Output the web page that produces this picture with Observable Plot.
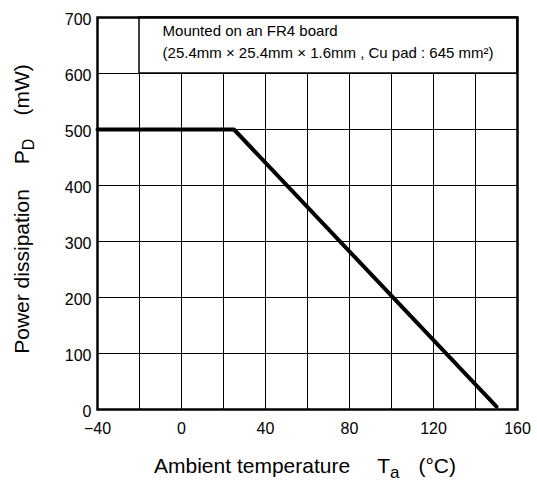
<!DOCTYPE html>
<html><head><meta charset="utf-8">
<script src="https://cdn.jsdelivr.net/npm/d3@7"></script>
<script src="https://cdn.jsdelivr.net/npm/@observablehq/plot@0.6"></script>
<style>body{margin:0;background:#fff} svg{font-family:"Liberation Sans",Arial,sans-serif}</style>
</head><body><div id="chart"></div>
<script>
const temps = [-40, 25, 150];
const power = [500, 500, 5];
const xTicks = [-40, 0, 40, 80, 120, 160];
const yTicks = [0, 100, 200, 300, 400, 500, 600, 700];
const xGrid = [-20, 0, 20, 40, 60, 80, 100, 120, 140];
const yGrid = [100, 200, 300, 400, 500, 600];
const noteLines = ["Mounted on an FR4 board", "(25.4mm \u00d7 25.4mm \u00d7 1.6mm , Cu pad : 645 mm\u00b2)"];
const noteY = [675, 636];
const noteBox = [{x1: -20, x2: 160, y1: 600, y2: 700}];

const data = temps.map((t, i) => ({t, p: power[i]}));
const notes = noteLines.map((s, i) => ({s, y: noteY[i]}));

const W = 537, H = 482;
const plot = Plot.plot({
  width: W, height: H,
  marginLeft: 97, marginRight: 20, marginTop: 17, marginBottom: 73,
  style: {fontFamily: '"Liberation Sans", Arial, sans-serif', color: "#000", background: "#fff"},
  x: {domain: [-40, 160]},
  y: {domain: [0, 700]},
  marks: [
    Plot.ruleX(xGrid, {stroke: "#000", strokeWidth: 1}),
    Plot.ruleY(yGrid, {stroke: "#000", strokeWidth: 1}),
    Plot.rect(noteBox, {x1: "x1", x2: "x2", y1: "y1", y2: "y2", fill: "#fff", stroke: "#000", strokeWidth: 1.5}),
    Plot.text(notes, {x: -9, y: "y", text: "s", textAnchor: "start", fontSize: 15, fill: "#000"}),
    Plot.line(data, {x: "t", y: "p", stroke: "#000", strokeWidth: 4}),
    Plot.frame({stroke: "#000", strokeWidth: 2.5}),
    Plot.axisX(xTicks, {tickSize: 0, tickPadding: 13, fontSize: 16, label: null}),
    Plot.axisY(yTicks, {tickSize: 0, tickPadding: 6, fontSize: 16, dy: 2, label: null})
  ]
});
document.getElementById("chart").appendChild(plot);

const svg = d3.select(plot);
// x axis label
const xl = svg.append("text")
  .attr("x", 305).attr("y", 473)
  .attr("text-anchor", "middle")
  .attr("font-size", 21).attr("fill", "#000");
xl.append("tspan").text("Ambient temperature");
xl.append("tspan").attr("dx", 27).text("T");
xl.append("tspan").attr("font-size", 17).attr("dy", 5).text("a");
xl.append("tspan").attr("dx", 19).attr("dy", -5).text("(\u00b0C)");
// y axis label
const yl = svg.append("text")
  .attr("transform", "translate(29,209) rotate(-90)")
  .attr("text-anchor", "middle")
  .attr("font-size", 21).attr("fill", "#000");
yl.append("tspan").text("Power dissipation");
yl.append("tspan").attr("dx", 25).text("P");
yl.append("tspan").attr("font-size", 16).attr("dy", 5).text("D");
yl.append("tspan").attr("dx", 23).attr("dy", -5).text("(mW)");
</script>
</body></html>
